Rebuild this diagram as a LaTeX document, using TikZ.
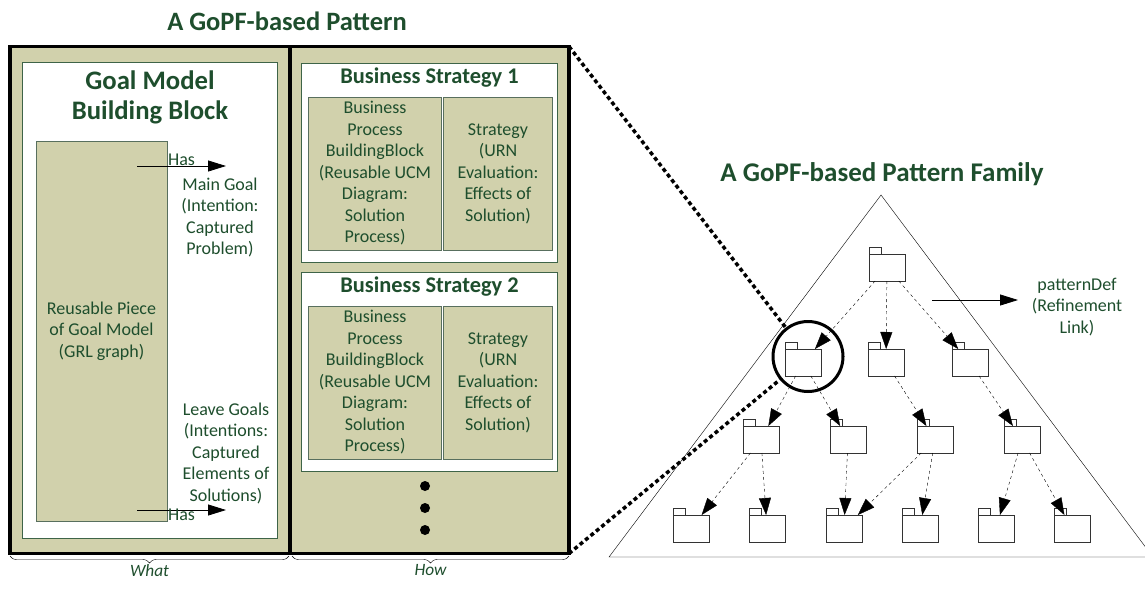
\documentclass[tikz,border=0pt]{standalone}
\usepackage{fontspec}
\setmainfont{Carlito}
\usetikzlibrary{arrows.meta,decorations.pathreplacing}
\definecolor{gtext}{RGB}{30,78,45}
\definecolor{olive}{RGB}{209,209,172}
\definecolor{gline}{RGB}{62,100,72}

\begin{document}
\begin{tikzpicture}[x=1pt,y=-1pt,
  txt/.style={text=gtext,align=center,font=\fontsize{18}{21.5}\selectfont},
  ttl/.style={text=gtext,align=center,font=\bfseries\fontsize{22.4}{26}\selectfont},
  half/.style={draw,line width=3.5pt,fill=olive,inner sep=0,outer sep=0},
  panel/.style={draw=gline,fill=white,inner sep=0,outer sep=0},
  piece/.style={txt,draw=gline!60!gray,fill=olive,inner sep=0,outer sep=0},
  folder/.style={draw=black!80,fill=white,minimum width=36pt,minimum height=27pt,inner sep=0,outer sep=0},
  refine/.style={dashed,thin,-{Triangle[length=17pt,width=12pt]}},
  hasarrow/.style={thick,-{Triangle[length=18pt,width=11pt]}},
  zoomline/.style={line width=3.5pt,dash pattern=on 4pt off 3pt}]
\useasboundingbox (0,0) rectangle (1145,590);
\clip (0,0) rectangle (1145,590);

% the pattern: what + how
\node[ttl,font=\bfseries\fontsize{26.5}{30}\selectfont] (pattitle) at (287,21) {A GoPF-based Pattern};
\node[half,minimum width=280pt,minimum height=507pt] (what) at (150,300) {};
\node[half,minimum width=279pt,minimum height=507pt] (how) at (429.5,300) {};

\node[panel,minimum width=255pt,minimum height=476pt] (gmbb) at (149.5,300) {};
\node[ttl,font=\bfseries\fontsize{26.7}{30}\selectfont] (gmtitle) at (150,97.5) {Goal Model\\Building Block};
\node[piece,minimum width=131pt,minimum height=380pt] (grl) at (101.5,331) {Reusable Piece\\of Goal Model\\(GRL graph)};
\node[txt] (maingoal) at (220,217.5) {Main Goal\\(Intention:\\Captured\\Problem)};
\node[txt] (leave) at (226,453) {Leave Goals\\(Intentions:\\Captured\\Elements of\\Solutions)};
\coordinate (has1s) at (137,166);
\coordinate (has1e) at (226,166);
\coordinate (has2s) at (137,510);
\coordinate (has2e) at (226,510);
\draw[hasarrow] (has1s) -- (has1e) node[txt,midway,above=-3pt] {Has};
\draw[hasarrow] (has2s) -- (has2e) node[txt,midway,below=-5pt] {Has};

\foreach \i/\y in {1/162.5, 2/371.5}{
  \node[panel,minimum width=256pt,minimum height=199pt] (bs\i) at (429.5,\y) {};
  \node[ttl] (bst\i) at (429.5,\y-84.5) {Business Strategy \i};
  \node[piece,minimum width=133pt,minimum height=153pt] (bp\i) at (375,\y+11) {Business\\Process\\BuildingBlock\\(Reusable UCM\\Diagram:\\Solution\\Process)};
  \node[piece,minimum width=109pt,minimum height=153pt] (ev\i) at (498,\y+11) {Strategy\\(URN\\Evaluation:\\Effects of\\Solution)};
}
\foreach \y in {486,508,530}
  \fill (425,\y) circle (5pt);

\draw[decorate,decoration={brace,mirror,amplitude=7pt}] (10,556) -- (289,556) node[txt,midway,below=5pt,font=\itshape\fontsize{17.3}{19}\selectfont] {What};
\draw[decorate,decoration={brace,mirror,amplitude=7pt}] (292,556) -- (569,556) node[txt,midway,below=5pt,font=\itshape\fontsize{17.3}{19}\selectfont] {How};

% the pattern family
\node[ttl,font=\bfseries\fontsize{27}{30}\selectfont] (famtitle) at (882,174) {A GoPF-based Pattern Family};
\draw[thin] (881,195) -- (609,557) -- (1153,557) -- cycle;
\foreach \n/\x/\y in {1/887/267.5, 21/803/362.5, 22/886/362.5, 23/970/362.5,
    31/761/439.5, 32/848/439.5, 33/935/439.5, 34/1022/439.5,
    41/691/528.5, 42/767/528.5, 43/844/528.5, 44/920/528.5, 45/996/528.5, 46/1072/528.5}{
  \node[folder] (f\n) at (\x,\y) {};
  \draw[draw=black!80,fill=white] (f\n.north west) rectangle ++(12,-7);
}
\foreach \a/\b in {1/21,1/22,1/23,21/31,21/32,22/33,23/34,31/41,31/42,32/43,33/43,33/44,34/45,34/46}
  \draw[refine] (f\a) -- (f\b);

\coordinate (pds) at (932,300);
\coordinate (pde) at (1018,300);
\draw[hasarrow] (pds) -- (pde);
\node[txt] (pdef) at (1077,307) {patternDef\\(Refinement\\Link)};

\node[draw,circle,line width=3pt,minimum size=70pt,inner sep=0] (zoomc) at (808,356.5) {};
\draw[zoomline] (how.north east) -- (zoomc);
\draw[zoomline] (how.south east) -- (zoomc);
\end{tikzpicture}
\end{document}
